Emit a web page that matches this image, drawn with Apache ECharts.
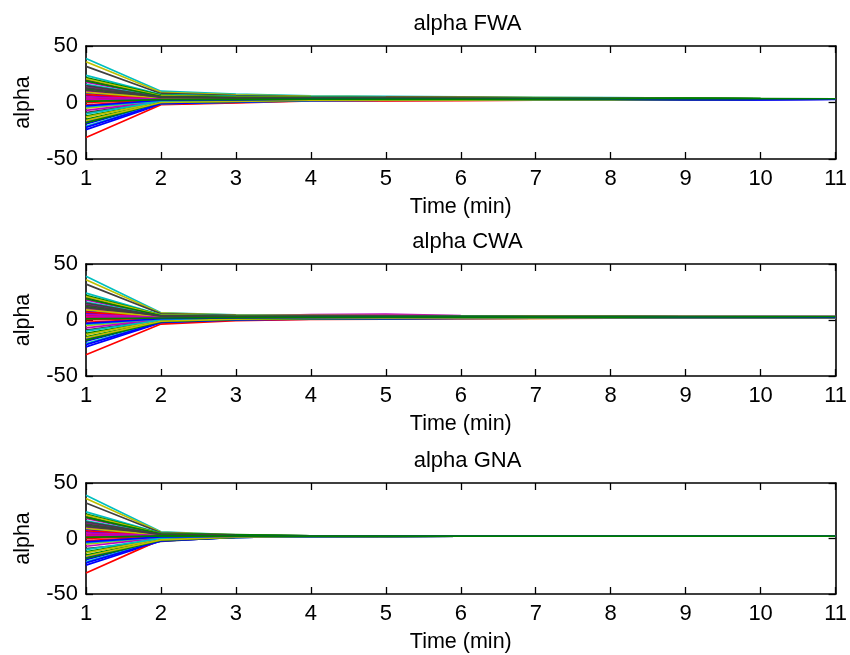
<!DOCTYPE html>
<html><head><meta charset="utf-8">
<script src="https://cdn.jsdelivr.net/npm/echarts@6.0.0/dist/echarts.min.js"></script>
<style>html,body{margin:0;padding:0;background:#fff}#c{width:850px;height:655px}</style>
</head><body><div id="c"></div>
<script>
// time steps (minutes)
const timeSteps = [1, 2, 3, 4, 5, 6, 7, 8, 9, 10, 11];
const yTicks = [-50, 0, 50];
const panelTitles = ['alpha FWA', 'alpha CWA', 'alpha GNA'];

// alpha at t = 1 (same start for all three methods), one value per agent
const alphaStart = [-24, 12, -31, 39, 18, 36, 32, 8, -15, 4, 24, 14, -5, 20, -19, 22, 2, -21, 10, 21, -9, 6, -12, -2, 16, -7, -13, 11, -17, 19, 7, -10, 3, 9, 15, -22, -18, 0, -4, 5, -16, 13, -3, 1];

// FWA: rows are t = 2 .. 11, one value per agent
const fwaRows = [
  [-1.5, 4.5, -2, 10, 5.5, 9, 8, 3.5, 0, 3, 7, 5, 1.5, 6, -0.5, 6.5, 2.5, -1, 4, 6, 1, 3.5, 0.5, 2, 5, 1, 0.5, 4, 0, 5.5, 3.5, 1, 2.5, 4, 5, -1, 0, 2, 1.5, 3, 0, 4.5, 2, 2.5],
  [0, 3.8, -0.3, 7.5, 4.5, 6.8, 6.2, 3.2, 0.9, 2.8, 5.4, 4.1, 1.9, 4.8, 0.5, 5.1, 2.5, 0.2, 3.5, 4.8, 1.5, 3.2, 1.2, 2.2, 4.1, 1.5, 1.2, 3.5, 0.9, 4.5, 3.2, 1.5, 2.5, 3.5, 4.1, 0.2, 0.9, 2.2, 1.9, 2.8, 0.9, 3.8, 2.2, 2.5],
  [1.6, 3.8, 1.4, 5.8, 4.2, 5.5, 5.1, 3.4, 2.1, 3.2, 4.7, 3.9, 2.6, 4.4, 1.9, 4.5, 3.0, 1.7, 3.6, 4.3, 2.4, 3.4, 2.3, 2.9, 3.9, 2.4, 2.3, 3.6, 2.1, 4.1, 3.4, 2.4, 3.0, 3.6, 3.9, 1.8, 2.1, 2.9, 2.6, 3.2, 2.1, 3.8, 2.9, 3.0],
  [1.9, 3.7, 1.5, 5.4, 4.0, 5.1, 4.8, 3.3, 2.2, 3.2, 4.4, 3.8, 2.7, 4.1, 2.1, 4.2, 3.0, 2.0, 3.5, 4.1, 2.5, 3.3, 2.4, 2.9, 3.8, 2.5, 2.4, 3.5, 2.2, 4.0, 3.3, 2.5, 3.0, 3.5, 3.8, 2.0, 2.2, 2.9, 2.7, 3.2, 2.2, 3.7, 2.9, 3.0],
  [2.1, 3.6, 1.6, 5.0, 3.8, 4.7, 4.5, 3.3, 2.3, 3.1, 4.2, 3.7, 2.8, 3.9, 2.2, 4.0, 3.0, 2.2, 3.4, 3.9, 2.6, 3.3, 2.5, 2.9, 3.7, 2.6, 2.5, 3.4, 2.3, 3.8, 3.3, 2.6, 3.0, 3.4, 3.7, 2.1, 2.3, 2.9, 2.7, 3.1, 2.3, 3.6, 2.9, 3.0],
  [2.1, 3.5, 2.0, 4.6, 3.7, 4.4, 4.2, 3.2, 2.5, 3.1, 3.9, 3.5, 2.8, 3.8, 2.4, 3.8, 3.0, 2.3, 3.3, 3.8, 2.6, 3.2, 2.6, 3.0, 3.5, 2.6, 2.6, 3.3, 2.3, 3.7, 3.2, 2.6, 3.0, 3.3, 3.5, 2.2, 2.5, 3.0, 2.8, 3.1, 2.5, 3.5, 3.0, 3.0],
  [2.0, 3.4, 2.3, 4.3, 3.6, 4.1, 4.0, 3.2, 2.6, 3.1, 3.8, 3.4, 2.9, 3.6, 2.5, 3.7, 3.0, 2.4, 3.2, 3.6, 2.7, 3.2, 2.6, 3.0, 3.4, 2.7, 2.6, 3.2, 2.6, 3.6, 3.2, 2.7, 3.0, 3.2, 3.4, 2.0, 2.6, 3.0, 2.8, 3.1, 2.6, 3.4, 3.0, 3.2],
  [2.1, 3.3, 2.4, 4.0, 3.5, 3.9, 3.8, 3.1, 2.7, 3.1, 3.6, 3.3, 2.9, 3.5, 2.4, 3.5, 3.0, 2.5, 3.2, 3.5, 2.8, 3.1, 2.7, 3.0, 3.3, 2.8, 2.7, 3.2, 2.5, 3.7, 3.1, 2.8, 3.0, 3.2, 3.3, 2.1, 2.6, 3.0, 2.9, 3.1, 2.7, 3.3, 2.5, 3.6],
  [2.6, 3.1, 2.8, 3.5, 3.2, 3.4, 3.3, 3.1, 2.9, 3.0, 3.2, 3.1, 3.0, 3.2, 2.8, 3.2, 3.0, 2.8, 3.1, 3.2, 2.9, 3.1, 2.9, 3.0, 3.1, 2.9, 2.9, 3.1, 2.8, 3.4, 3.1, 2.9, 3.0, 3.1, 3.1, 2.6, 2.9, 3.0, 3.0, 3.0, 2.9, 3.1, 2.7, 3.4],
  [2.9, 3.0, 2.9, 3.1, 3.1, 3.1, 3.1, 3.0, 3.0, 3.0, 3.1, 3.0, 3.0, 3.1, 3.0, 3.1, 3.0, 2.9, 3.0, 3.1, 3.0, 3.0, 3.0, 3.0, 3.0, 3.0, 3.0, 3.0, 3.0, 3.2, 3.0, 3.0, 3.0, 3.0, 3.0, 2.9, 3.0, 3.0, 3.0, 3.0, 3.0, 3.0, 2.8, 3.3]
];

// CWA: rows are t = 2 .. 11
const cwaRows = [
  [-2.4, 3.2, -3.6, 6.4, 3.9, 6.1, 5.6, 2.7, -0.9, 2.2, 4.6, 3.4, 0.8, 4.2, -1.6, 4.4, 2.0, -1.9, 3.0, 4.3, 0.1, 2.5, -0.4, 1.3, 3.7, 0.5, -0.6, 3.1, -1.2, 4.0, 2.6, 0, 2.1, 2.8, 3.6, -2.1, -1.4, 1.7, 1.0, 2.4, -1.1, 3.5, 1.1, 1.8],
  [0.1, 2.9, -0.5, 4.5, 3.3, 4.4, 4.1, 2.7, 0.9, 2.4, 3.6, 3.0, 1.7, 3.4, 0.5, 3.5, 2.3, 0.4, 2.8, 3.5, 1.4, 2.6, 1.1, 2.0, 3.2, 1.6, 1.0, 2.9, 0.7, 3.3, 2.6, 1.3, 2.4, 2.7, 3.1, 0.2, 0.6, 2.2, 1.8, 2.5, 0.8, 3.1, 1.9, 2.2],
  [0.8, 3.0, 0.5, 4.3, 4.8, 4.2, 3.9, 2.8, 1.4, 2.6, 3.5, 3.0, 2.1, 3.4, 1.2, 3.4, 2.5, 1.1, 2.8, 3.4, 1.9, 2.7, 1.7, 2.3, 3.1, 2.0, 1.6, 2.9, 1.4, 3.3, 2.7, 1.8, 2.6, 2.8, 3.1, 1.0, 1.3, 2.4, 2.1, 2.6, 1.5, 3.5, 2.2, 2.4],
  [1.0, 2.9, 0.8, 4.0, 5.2, 3.9, 3.7, 2.8, 1.5, 2.6, 3.4, 2.9, 2.2, 3.3, 1.4, 3.3, 2.5, 1.3, 2.8, 3.3, 2.0, 2.7, 1.8, 2.3, 3.0, 2.1, 1.7, 2.8, 1.5, 3.2, 2.7, 1.9, 2.6, 2.8, 3.0, 1.1, 1.4, 2.4, 2.1, 2.6, 1.6, 3.4, 2.3, 2.5],
  [1.4, 2.8, 1.1, 3.6, 3.9, 3.6, 3.5, 2.7, 1.8, 2.6, 3.2, 2.9, 2.2, 3.1, 1.7, 3.2, 2.5, 1.6, 2.7, 3.1, 2.1, 2.6, 1.9, 2.4, 3.0, 2.1, 1.2, 2.8, 1.8, 3.1, 2.6, 2.0, 2.6, 2.7, 2.9, 1.5, 1.7, 2.4, 2.2, 2.6, 1.8, 3.2, 2.3, 2.5],
  [1.7, 2.7, 1.4, 3.4, 3.3, 3.4, 3.3, 2.7, 1.9, 2.6, 3.0, 2.8, 2.3, 3.0, 1.8, 3.0, 2.5, 1.7, 2.7, 3.0, 2.1, 2.6, 2.0, 2.4, 2.9, 2.2, 1.5, 2.7, 1.9, 2.9, 2.6, 2.1, 2.6, 2.7, 2.9, 1.7, 1.8, 2.4, 2.2, 2.6, 1.9, 3.1, 2.4, 2.6],
  [1.8, 2.7, 1.6, 3.3, 3.2, 3.3, 3.2, 2.7, 2.0, 2.6, 3.0, 2.8, 2.3, 3.0, 1.9, 3.0, 2.5, 1.8, 2.7, 3.0, 2.2, 2.6, 2.1, 2.4, 2.9, 2.2, 1.8, 2.7, 2.0, 2.9, 2.6, 2.1, 2.6, 2.7, 2.8, 1.8, 1.9, 2.4, 2.3, 2.6, 2.0, 3.0, 2.4, 2.6],
  [1.9, 2.7, 1.7, 3.2, 3.1, 3.2, 3.1, 2.7, 2.0, 2.6, 2.9, 2.8, 2.3, 2.9, 1.9, 2.9, 2.5, 1.9, 2.7, 2.9, 2.2, 2.6, 2.1, 2.4, 2.8, 2.3, 1.9, 2.7, 2.0, 2.8, 2.6, 2.2, 2.6, 2.7, 2.8, 1.9, 2.0, 2.4, 2.3, 2.6, 2.0, 3.0, 2.4, 2.7],
  [2.0, 2.7, 1.8, 3.2, 3.1, 3.1, 3.1, 2.7, 2.1, 2.6, 2.9, 2.8, 2.3, 2.9, 2.0, 2.9, 2.5, 1.9, 2.7, 2.9, 2.2, 2.6, 2.2, 2.4, 2.8, 2.3, 2.0, 2.7, 2.1, 2.8, 2.6, 2.2, 2.6, 2.7, 2.8, 1.9, 2.0, 2.4, 2.3, 2.6, 2.1, 3.0, 2.4, 2.8],
  [2.0, 2.7, 1.9, 3.1, 3.0, 3.1, 3.0, 2.7, 2.1, 2.6, 2.9, 2.8, 2.4, 2.9, 2.0, 2.9, 2.5, 2.0, 2.7, 2.9, 2.2, 2.6, 2.2, 2.4, 2.8, 2.3, 2.0, 2.7, 2.1, 2.8, 2.6, 2.2, 2.6, 2.7, 2.8, 2.0, 2.0, 2.4, 2.3, 2.6, 2.1, 3.0, 2.4, 2.9]
];

// GNA: rows are t = 2 .. 11
const gnaRows = [
  [-2.2, 3.4, -1.0, 6.0, 4.0, 5.6, 5.2, 3.0, -0.9, 2.6, 4.6, 3.6, 1.0, 4.2, -1.6, 4.4, 2.4, -1.9, 3.2, 4.3, -2.6, 2.8, -0.3, 1.6, 3.8, 0.6, -0.5, 3.3, -1.2, 4.1, 2.9, 0.1, 2.5, 3.1, 3.7, -2.1, -1.4, 2.2, 1.2, 2.7, -1.3, 3.5, 1.4, 2.3],
  [0.9, 2.6, 1.3, 3.4, 2.7, 3.2, 3.1, 2.4, 1.3, 2.3, 2.9, 2.6, 1.8, 2.8, 1.1, 2.9, 2.3, 1.0, 2.5, 2.8, 1.5, 2.4, 1.5, 2.0, 2.7, 1.7, 1.4, 2.5, 1.2, 3.6, 2.4, 1.6, 2.3, 2.5, 2.7, 0.9, 1.1, 2.2, 1.9, 2.4, 1.2, 2.6, 1.9, 2.2],
  [1.9, 2.2, 1.9, 2.4, 2.2, 2.3, 2.3, 2.1, 1.9, 2.1, 2.2, 2.2, 2.0, 2.2, 1.9, 2.3, 2.1, 1.9, 2.1, 2.2, 2.0, 2.1, 2.0, 2.0, 2.2, 2.0, 2.0, 2.1, 1.9, 2.3, 2.1, 2.0, 2.1, 2.1, 2.2, 1.9, 1.9, 2.1, 2.0, 2.1, 1.9, 2.2, 2.0, 2.1],
  [2.0, 2.1, 2.0, 2.2, 2.1, 2.2, 2.2, 2.1, 2.0, 2.1, 2.1, 2.1, 2.1, 2.1, 2.0, 2.2, 2.1, 2.0, 2.1, 2.1, 2.1, 2.1, 2.1, 2.1, 2.1, 2.1, 2.1, 2.1, 2.0, 2.2, 2.1, 2.1, 2.1, 2.1, 2.1, 2.0, 2.0, 2.1, 2.1, 2.1, 2.0, 2.1, 2.1, 2.1],
  [2.1, 2.1, 2.1, 2.1, 2.1, 2.1, 2.1, 2.1, 2.1, 2.1, 2.1, 2.1, 2.1, 2.1, 2.1, 2.1, 2.1, 2.1, 2.1, 2.1, 2.1, 2.1, 2.1, 2.1, 2.1, 2.1, 2.1, 2.1, 2.1, 2.1, 2.1, 2.1, 2.1, 2.1, 2.1, 2.1, 2.1, 2.1, 2.1, 2.1, 2.1, 2.1, 2.1, 2.1],
  [2.1, 2.1, 2.1, 2.1, 2.1, 2.1, 2.1, 2.1, 2.1, 2.1, 2.1, 2.1, 2.1, 2.1, 2.1, 2.1, 2.1, 2.1, 2.1, 2.1, 2.1, 2.1, 2.1, 2.1, 2.1, 2.1, 2.1, 2.1, 2.1, 2.1, 2.1, 2.1, 2.1, 2.1, 2.1, 2.1, 2.1, 2.1, 2.1, 2.1, 2.1, 2.1, 2.1, 2.1],
  [2.1, 2.1, 2.1, 2.1, 2.1, 2.1, 2.1, 2.1, 2.1, 2.1, 2.1, 2.1, 2.1, 2.1, 2.1, 2.1, 2.1, 2.1, 2.1, 2.1, 2.1, 2.1, 2.1, 2.1, 2.1, 2.1, 2.1, 2.1, 2.1, 2.1, 2.1, 2.1, 2.1, 2.1, 2.1, 2.1, 2.1, 2.1, 2.1, 2.1, 2.1, 2.1, 2.1, 2.1],
  [2.1, 2.1, 2.1, 2.1, 2.1, 2.1, 2.1, 2.1, 2.1, 2.1, 2.1, 2.1, 2.1, 2.1, 2.1, 2.1, 2.1, 2.1, 2.1, 2.1, 2.1, 2.1, 2.1, 2.1, 2.1, 2.1, 2.1, 2.1, 2.1, 2.1, 2.1, 2.1, 2.1, 2.1, 2.1, 2.1, 2.1, 2.1, 2.1, 2.1, 2.1, 2.1, 2.1, 2.1],
  [2.1, 2.1, 2.1, 2.1, 2.1, 2.1, 2.1, 2.1, 2.1, 2.1, 2.1, 2.1, 2.1, 2.1, 2.1, 2.1, 2.1, 2.1, 2.1, 2.1, 2.1, 2.1, 2.1, 2.1, 2.1, 2.1, 2.1, 2.1, 2.1, 2.1, 2.1, 2.1, 2.1, 2.1, 2.1, 2.1, 2.1, 2.1, 2.1, 2.1, 2.1, 2.1, 2.1, 2.1],
  [2.1, 2.1, 2.1, 2.1, 2.1, 2.1, 2.1, 2.1, 2.1, 2.1, 2.1, 2.1, 2.1, 2.1, 2.1, 2.1, 2.1, 2.1, 2.1, 2.1, 2.1, 2.1, 2.1, 2.1, 2.1, 2.1, 2.1, 2.1, 2.1, 2.1, 2.1, 2.1, 2.1, 2.1, 2.1, 2.1, 2.1, 2.1, 2.1, 2.1, 2.1, 2.1, 2.1, 2.1]
];

const panelRows = [fwaRows, cwaRows, gnaRows];
const lineColors = ['#0000ff', '#008000', '#ff0000', '#00bfbf', '#bf00bf', '#bfbf00', '#404040'];

const FONT = "'Liberation Sans', Arial, Helvetica, sans-serif";
const gridTops = [46, 264, 483];
const gridHeights = [113, 112, 111];
const gridLeft = 86, gridRight = 11;

const grids = [], xAxes = [], yAxes = [], titles = [], series = [];
const axisLineStyle = { color: '#000', width: 1.6 };
const tickStyle = { color: '#000', width: 1.3 };

for (let p = 0; p < 3; p++) {
  grids.push({ left: gridLeft, right: gridRight, top: gridTops[p], height: gridHeights[p] });
  titles.push({
    text: panelTitles[p], left: (gridLeft + 850 - gridRight) / 2, top: gridTops[p] - 38, textAlign: 'center',
    textStyle: { fontFamily: FONT, fontSize: 22, fontWeight: 'normal', color: '#000' }
  });
  const xBase = {
    type: 'value', gridIndex: p, min: timeSteps[0], max: timeSteps[timeSteps.length - 1], interval: 1,
    splitLine: { show: false },
    axisLine: { show: true, onZero: false, lineStyle: axisLineStyle },
    axisTick: { show: true, inside: true, length: 7, lineStyle: tickStyle }
  };
  xAxes.push(Object.assign({}, xBase, {
    position: 'bottom',
    axisLabel: { show: true, color: '#000', fontFamily: FONT, fontSize: 22, margin: 9 },
    name: 'Time (min)', nameLocation: 'middle', nameGap: 37,
    nameTextStyle: { color: '#000', fontFamily: FONT, fontSize: 21.5 }
  }));
  xAxes.push(Object.assign({}, xBase, { position: 'top', axisLabel: { show: false } }));
  const yBase = {
    type: 'value', gridIndex: p, min: yTicks[0], max: yTicks[yTicks.length - 1], interval: 50,
    splitLine: { show: false },
    axisLine: { show: true, onZero: false, lineStyle: axisLineStyle },
    axisTick: { show: true, inside: true, length: 7, lineStyle: tickStyle }
  };
  yAxes.push(Object.assign({}, yBase, {
    position: 'left',
    axisLabel: { show: true, color: '#000', fontFamily: FONT, fontSize: 22, margin: 8 },
    name: 'alpha', nameLocation: 'middle', nameGap: 52, nameRotate: 90,
    nameTextStyle: { color: '#000', fontFamily: FONT, fontSize: 21.5 }
  }));
  yAxes.push(Object.assign({}, yBase, { position: 'right', axisLabel: { show: false } }));

  const rows = panelRows[p];
  for (let i = 0; i < alphaStart.length; i++) {
    const data = [[timeSteps[0], alphaStart[i]]];
    for (let k = 0; k < rows.length; k++) data.push([timeSteps[k + 1], rows[k][i]]);
    series.push({
      type: 'line', xAxisIndex: 2 * p, yAxisIndex: 2 * p, data: data,
      showSymbol: false, symbol: 'none', silent: true,
      lineStyle: { color: lineColors[i % lineColors.length], width: 1.7 }
    });
  }
}

const chart = echarts.init(document.getElementById('c'), null, { renderer: 'canvas' });
chart.setOption({
  animation: false,
  backgroundColor: '#fff',
  textStyle: { fontFamily: FONT },
  title: titles,
  grid: grids,
  xAxis: xAxes,
  yAxis: yAxes,
  series: series
});
</script>
</body></html>
